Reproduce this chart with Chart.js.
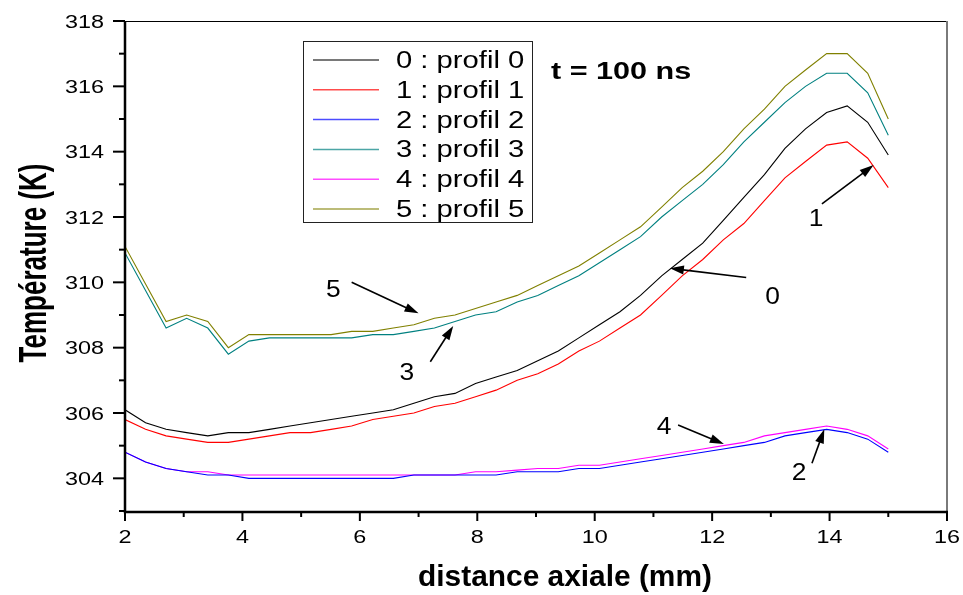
<!DOCTYPE html>
<html lang="fr">
<head>
    <meta charset="UTF-8">
    <title>Température - distance axiale</title>
    <script src="https://cdn.jsdelivr.net/npm/chart.js@4.4.0/dist/chart.umd.min.js"></script>
    <style>
        html, body {
            margin: 0;
            padding: 0;
            background: #fff;
        }
        .wrap {
            position: relative;
            width: 963px;
            height: 595px;
        }
    </style>
</head>
<body>
    <div class="wrap"><canvas id="chart"></canvas></div>

    <script>
        // distance axiale (mm)
        const distance = [2.00, 2.35, 2.70, 3.05, 3.41, 3.76, 4.11, 4.46, 4.81, 5.16,
                          5.51, 5.86, 6.22, 6.57, 6.92, 7.27, 7.62, 7.97, 8.32, 8.68,
                          9.03, 9.38, 9.73, 10.08, 10.43, 10.78, 11.14, 11.49, 11.84, 12.19,
                          12.54, 12.89, 13.24, 13.59, 13.95, 14.30, 14.65, 15.00];

        // temperatures (K)
        const profil0 = [306.1, 305.7, 305.5, 305.4, 305.3, 305.4, 305.4, 305.5, 305.6, 305.7,
                         305.8, 305.9, 306.0, 306.1, 306.3, 306.5, 306.6, 306.9, 307.1, 307.3,
                         307.6, 307.9, 308.3, 308.7, 309.1, 309.6, 310.2, 310.7, 311.2, 311.9,
                         312.6, 313.3, 314.1, 314.7, 315.2, 315.4, 314.9, 313.9];
        const profil1 = [305.8, 305.5, 305.3, 305.2, 305.1, 305.1, 305.2, 305.3, 305.4, 305.4,
                         305.5, 305.6, 305.8, 305.9, 306.0, 306.2, 306.3, 306.5, 306.7, 307.0,
                         307.2, 307.5, 307.9, 308.2, 308.6, 309.0, 309.6, 310.2, 310.7, 311.3,
                         311.8, 312.5, 313.2, 313.7, 314.2, 314.3, 313.8, 312.9];
        const profil2 = [304.8, 304.5, 304.3, 304.2, 304.1, 304.1, 304.0, 304.0, 304.0, 304.0,
                         304.0, 304.0, 304.0, 304.0, 304.1, 304.1, 304.1, 304.1, 304.1, 304.2,
                         304.2, 304.2, 304.3, 304.3, 304.4, 304.5, 304.6, 304.7, 304.8, 304.9,
                         305.0, 305.1, 305.3, 305.4, 305.5, 305.4, 305.2, 304.8];
        const profil3 = [310.9, 309.75, 308.6, 308.9, 308.6, 307.8, 308.2, 308.3, 308.3, 308.3,
                         308.3, 308.3, 308.4, 308.4, 308.5, 308.6, 308.8, 309.0, 309.1, 309.4,
                         309.6, 309.9, 310.2, 310.6, 311.0, 311.4, 312.0, 312.5, 313.0, 313.6,
                         314.3, 314.9, 315.5, 316.0, 316.4, 316.4, 315.8, 314.5];
        const profil4 = [304.8, 304.5, 304.3, 304.2, 304.2, 304.1, 304.1, 304.1, 304.1, 304.1,
                         304.1, 304.1, 304.1, 304.1, 304.1, 304.1, 304.1, 304.2, 304.2, 304.25,
                         304.3, 304.3, 304.4, 304.4, 304.5, 304.6, 304.7, 304.8, 304.9, 305.0,
                         305.1, 305.3, 305.4, 305.5, 305.6, 305.5, 305.3, 304.9];
        const profil5 = [311.1, 309.95, 308.8, 309.0, 308.8, 308.0, 308.4, 308.4, 308.4, 308.4,
                         308.4, 308.5, 308.5, 308.6, 308.7, 308.9, 309.0, 309.2, 309.4, 309.6,
                         309.9, 310.2, 310.5, 310.9, 311.3, 311.7, 312.3, 312.9, 313.4, 314.0,
                         314.7, 315.3, 316.0, 316.5, 317.0, 317.0, 316.4, 315.0];

        const profiles = [profil0, profil1, profil2, profil3, profil4, profil5];
        const seriesLabels = ['0 : profil 0', '1 : profil 1', '2 : profil 2',
                              '3 : profil 3', '4 : profil 4', '5 : profil 5'];
        const colours = ['#000000', '#ff0000', '#0000ff', '#008080', '#ff00ff', '#808000'];

        const xTickLabels = [2, 4, 6, 8, 10, 12, 14, 16];
        const yTickLabels = [304, 306, 308, 310, 312, 314, 316, 318];

        // curve labels with their arrows, in data units: [text, labelX, labelY, fromX, fromY, tipX, tipY]
        const callouts = [
            ['5', 5.55, 309.80, 5.86, 310.00, 7.00, 309.05],
            ['3', 6.80, 307.26, 7.20, 307.57, 7.59, 308.66],
            ['0', 13.03, 309.61, 12.58, 310.15, 11.28, 310.43],
            ['1', 13.77, 311.99, 13.87, 312.40, 14.75, 313.59],
            ['4', 11.18, 305.63, 11.42, 305.63, 12.20, 305.05],
            ['2', 13.48, 304.20, 13.70, 304.46, 13.91, 305.50]
        ];

        const FONT = "'Liberation Sans', Arial, sans-serif";

        // the original figure's lettering is drawn wide, so text gets a horizontal stretch
        function wideText(ctx, txt, x, y, font, sx, align, baseline) {
            ctx.save();
            ctx.translate(x, y);
            ctx.scale(sx, 1);
            ctx.font = font;
            ctx.textAlign = align;
            ctx.textBaseline = baseline;
            ctx.fillStyle = '#000';
            ctx.fillText(txt, 0, 0);
            ctx.restore();
        }

        function arrow(ctx, x1, y1, x2, y2) {
            const ang = Math.atan2(y2 - y1, x2 - x1);
            const len = 14, half = 4.5;
            ctx.save();
            ctx.strokeStyle = '#000';
            ctx.fillStyle = '#000';
            ctx.lineWidth = 1.6;
            ctx.beginPath();
            ctx.moveTo(x1, y1);
            ctx.lineTo(x2 - Math.cos(ang) * len * 0.8, y2 - Math.sin(ang) * len * 0.8);
            ctx.stroke();
            ctx.beginPath();
            ctx.moveTo(x2, y2);
            ctx.lineTo(x2 - Math.cos(ang) * len - Math.sin(ang) * half, y2 - Math.sin(ang) * len + Math.cos(ang) * half);
            ctx.lineTo(x2 - Math.cos(ang) * len + Math.sin(ang) * half, y2 - Math.sin(ang) * len - Math.cos(ang) * half);
            ctx.closePath();
            ctx.fill();
            ctx.restore();
        }

        const framePlugin = {
            id: 'frame',
            afterDraw(chart) {
                const ctx = chart.ctx;
                const a = chart.chartArea;
                const sx = chart.scales.x, sy = chart.scales.y;

                ctx.save();
                // box
                ctx.strokeStyle = '#000';
                ctx.lineWidth = 1;
                ctx.beginPath();
                ctx.moveTo(a.left, a.top + 0.5);
                ctx.lineTo(a.right, a.top + 0.5);
                ctx.stroke();
                ctx.strokeStyle = '#7a7a7a';
                ctx.lineWidth = 2;
                ctx.beginPath();
                ctx.moveTo(a.right, a.top);
                ctx.lineTo(a.right, a.bottom);
                ctx.stroke();
                ctx.strokeStyle = '#000';
                ctx.lineWidth = 2.5;
                ctx.beginPath();
                ctx.moveTo(a.left, a.top);
                ctx.lineTo(a.left, a.bottom + 1);
                ctx.lineTo(a.right + 1, a.bottom + 1);
                ctx.stroke();

                // tick marks, majors every 2, minors in between
                ctx.lineWidth = 2;
                for (let v = 2; v <= 16; v++) {
                    const px = sx.getPixelForValue(v);
                    const l = v % 2 === 0 ? 9 : 5;
                    ctx.beginPath();
                    ctx.moveTo(px, a.bottom + 1);
                    ctx.lineTo(px, a.bottom + 1 + l);
                    ctx.stroke();
                }
                for (let v = 303; v <= 318; v++) {
                    const py = sy.getPixelForValue(v);
                    const l = v % 2 === 0 ? 12 : 6;
                    ctx.beginPath();
                    ctx.moveTo(a.left, py);
                    ctx.lineTo(a.left - l, py);
                    ctx.stroke();
                }
                ctx.restore();

                // tick labels
                const tickFont = '18px ' + FONT;
                xTickLabels.forEach(v => {
                    wideText(ctx, String(v), sx.getPixelForValue(v), 543, tickFont, 1.3, 'center', 'alphabetic');
                });
                yTickLabels.forEach(v => {
                    wideText(ctx, String(v), 104, sy.getPixelForValue(v) + 6.5, tickFont, 1.3, 'right', 'alphabetic');
                });

                // axis titles
                wideText(ctx, 'distance axiale (mm)', 565, 586, 'bold 29px ' + FONT, 1.03, 'center', 'alphabetic');
                ctx.save();
                ctx.translate(46, 263);
                ctx.rotate(-Math.PI / 2);
                ctx.scale(1, 1.5);
                ctx.font = 'bold 26px ' + FONT;
                ctx.textAlign = 'center';
                ctx.textBaseline = 'alphabetic';
                ctx.fillStyle = '#000';
                ctx.fillText('Température (K)', 0, 0);
                ctx.restore();

                // legend box
                ctx.save();
                ctx.strokeStyle = '#222';
                ctx.lineWidth = 1;
                ctx.strokeRect(303.5, 41.5, 229, 181);
                chart.data.datasets.forEach((ds, i) => {
                    const ry = 60 + i * 29.8;
                    ctx.strokeStyle = ds.borderColor;
                    ctx.lineWidth = 1.5;
                    ctx.globalAlpha = 0.7;
                    ctx.beginPath();
                    ctx.moveTo(313, ry);
                    ctx.lineTo(379, ry);
                    ctx.stroke();
                    ctx.globalAlpha = 1;
                    wideText(ctx, ds.label, 396, ry + 8, '23px ' + FONT, 1.27, 'left', 'alphabetic');
                });
                ctx.restore();

                wideText(ctx, 't = 100 ns', 551, 79, 'bold 23px ' + FONT, 1.33, 'left', 'alphabetic');

                // curve callouts
                callouts.forEach(c => {
                    wideText(ctx, c[0], sx.getPixelForValue(c[1]), sy.getPixelForValue(c[2]) + 8.5,
                             '24px ' + FONT, 1.1, 'center', 'alphabetic');
                    arrow(ctx, sx.getPixelForValue(c[3]), sy.getPixelForValue(c[4]),
                          sx.getPixelForValue(c[5]), sy.getPixelForValue(c[6]));
                });
            }
        };

        new Chart(document.getElementById('chart'), {
            type: 'line',
            data: {
                datasets: profiles.map((p, i) => ({
                    label: seriesLabels[i],
                    data: distance.map((d, j) => ({ x: d, y: p[j] })),
                    borderColor: colours[i],
                    borderWidth: 1.1,
                    pointRadius: 0,
                    fill: false,
                    tension: 0
                }))
            },
            options: {
                responsive: true,
                maintainAspectRatio: false,
                animation: false,
                layout: { padding: { top: 21, right: 16, left: 0, bottom: 0 } },
                plugins: {
                    legend: { display: false },
                    tooltip: { enabled: false }
                },
                scales: {
                    x: {
                        type: 'linear',
                        min: 2,
                        max: 16,
                        ticks: { display: false, stepSize: 1 },
                        grid: { display: false },
                        border: { display: false },
                        afterFit: s => { s.height = 84; }
                    },
                    y: {
                        type: 'linear',
                        min: 303,
                        max: 318,
                        ticks: { display: false, stepSize: 1 },
                        grid: { display: false },
                        border: { display: false },
                        afterFit: s => { s.width = 125; }
                    }
                }
            },
            plugins: [framePlugin]
        });
    </script>
</body>
</html>
